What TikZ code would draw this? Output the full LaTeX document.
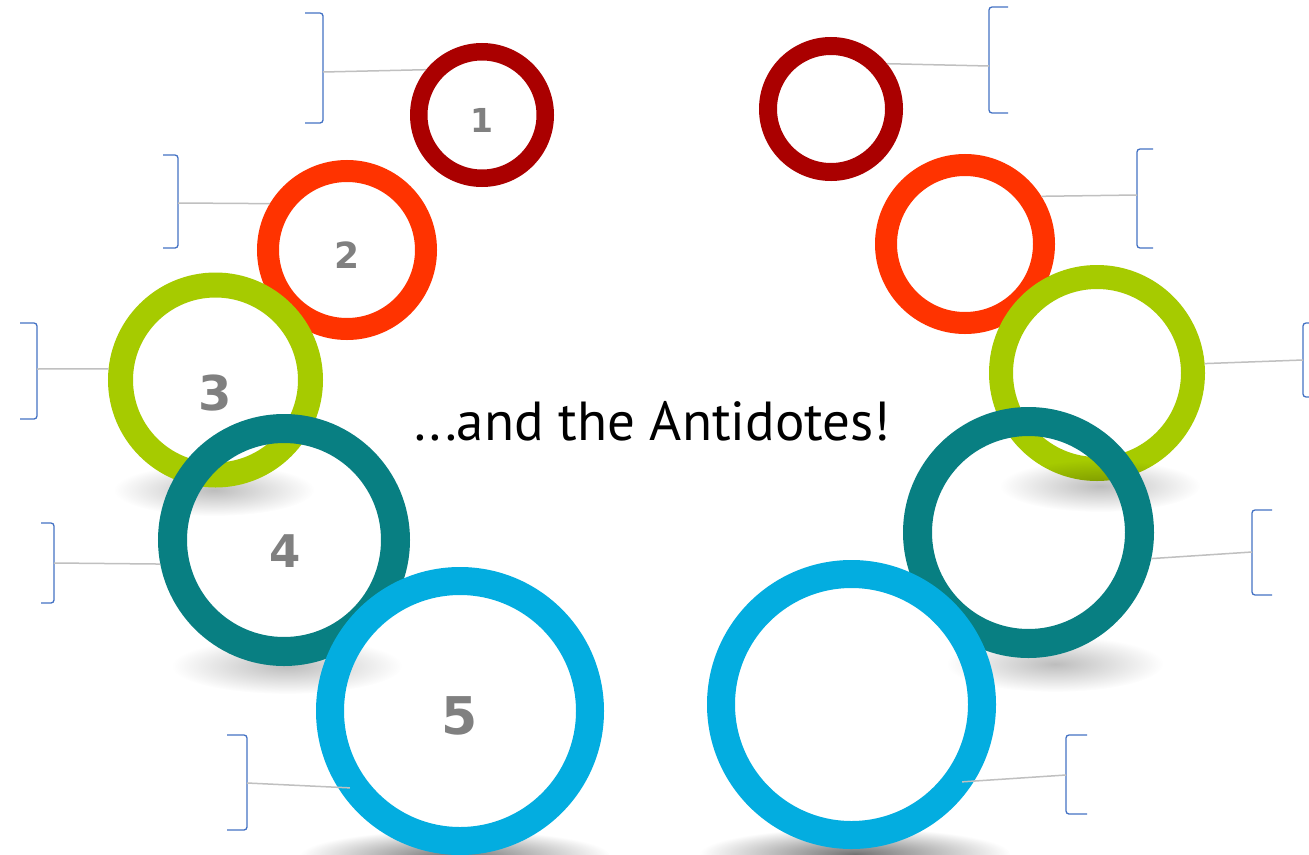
\documentclass[tikz,border=0pt]{standalone}
\usepackage{fontspec}
\setmainfont{DejaVu Sans}
\newfontfamily\titlefont{PT Sans}
\usetikzlibrary{fadings}
\definecolor{cRed}{RGB}{170,0,0}
\definecolor{cOrange}{RGB}{255,51,0}
\definecolor{cLime}{RGB}{166,203,0}
\definecolor{cTeal}{RGB}{8,127,130}
\definecolor{cCyan}{RGB}{3,173,224}
\definecolor{cBrk}{RGB}{68,114,196}
\definecolor{cLink}{RGB}{192,192,192}
\definecolor{cDigit}{RGB}{128,128,128}
\tikzfading[name=softshade, inner color=transparent!0, outer color=transparent!100]
\begin{document}
\begin{tikzpicture}[x=1pt,y=-1pt,
  ring/.style n args={3}{circle, draw=#1, line width=#2pt, minimum size=#3pt, inner sep=0pt},
  digit/.style={text=cDigit, font=\bfseries\fontsize{#1}{#1}\selectfont, inner sep=0pt},
  brk/.style={draw=cBrk, line width=1.3pt, rounded corners=3pt},
  link/.style={draw=cLink, line width=1.5pt},
  shadow/.style={fill=black, opacity=#1, path fading=softshade}]
\useasboundingbox (0,0) rectangle (1309,854);
\fill[white] (0,0) rectangle (1309,854);

% ---------- left side ----------
\node[ring={cRed}{17.5}{126.5}] (L1) at (482,115) {};
\node[ring={cOrange}{22}{158}] (L2) at (347,250) {};
\fill[shadow=0.26] (214,490) ellipse [x radius=100pt, y radius=26pt];
\node[ring={cLime}{25}{190}] (L3) at (215.5,380) {};
\fill[shadow=0.26] (287,666) ellipse [x radius=115pt, y radius=28pt];
\node[ring={cTeal}{29}{223}] (L4) at (284,540) {};
\fill[shadow=0.55] (455,856) ellipse [x radius=155pt, y radius=26pt];
\node[ring={cCyan}{28}{260}] (L5) at (460,711) {};

\node[digit=33] (d1) at (482,120) {1};
\node[digit=36] (d2) at (347,255) {2};
\node[digit=48] (d3) at (215,393) {3};
\node[digit=45] (d4) at (285,551) {4};
\node[digit=52] (d5) at (460,716) {5};

% ---------- right side ----------
\node[ring={cRed}{18}{126}] (R1) at (831,109) {};
\node[ring={cOrange}{22}{158}] (R2) at (965,244) {};
\node[ring={cLime}{24}{192}] (R3) at (1097,373) {};
\fill[shadow=0.26] (1100,486) ellipse [x radius=100pt, y radius=26pt];
\fill[shadow=0.26] (1055,664) ellipse [x radius=108pt, y radius=28pt];
\node[ring={cTeal}{29}{222}] (R4) at (1028.5,532.5) {};
\fill[shadow=0.55] (855,854) ellipse [x radius=155pt, y radius=26pt];
\node[ring={cCyan}{28}{261}] (R5) at (851.5,704.5) {};

% ---------- title ----------
\node[anchor=base, inner sep=0pt, font=\titlefont\fontsize{55}{60}\selectfont] (title) at (652.5,440) {...and the Antidotes!};

% ---------- brackets (left, "]") ----------
\coordinate (bL1) at (323,72);
\coordinate (bL2) at (178,203);
\coordinate (bL3) at (37,369);
\coordinate (bL4) at (54,563);
\coordinate (bL5) at (247,783);
\draw[brk] (305,13) -- (323,13) -- (323,123) -- (305,123);
\draw[brk] (163,155) -- (178,155) -- (178,248) -- (163,248);
\draw[brk] (20,323) -- (37,323) -- (37,419) -- (20,419);
\draw[brk] (41,523) -- (54,523) -- (54,603) -- (41,603);
\draw[brk] (227,735) -- (247,735) -- (247,830) -- (227,830);
\draw[link] (bL1) -- (L1.141.5);
\draw[link] (bL2) -- (L2.149);
\draw[link] (bL3) -- (L3.174);
\draw[link] (bL4) -- (L4.191.8);
\draw[link, shorten >=-12pt] (bL5) -- (L5.212.8);

% ---------- brackets (right, "[") ----------
\coordinate (bR1) at (989,66);
\coordinate (bR2) at (1137,195);
\coordinate (bR3) at (1303,360);
\coordinate (bR4) at (1252,552);
\coordinate (bR5) at (1066,775);
\draw[brk] (1008,7) -- (989,7) -- (989,113) -- (1008,113);
\draw[brk] (1153,149) -- (1137,149) -- (1137,248) -- (1153,248);
\draw[brk] (1318,323) -- (1303,323) -- (1303,397) -- (1318,397);
\draw[brk] (1272,510) -- (1252,510) -- (1252,595) -- (1272,595);
\draw[brk] (1087,735) -- (1066,735) -- (1066,814) -- (1087,814);
\draw[link] (bR1) -- (R1.39);
\draw[link] (bR2) -- (R2.32.5);
\draw[link] (bR3) -- (R3.5.8);
\draw[link] (bR4) -- (R4.-12);
\draw[link, shorten >=-12pt] (bR5) -- (R5.-32.2);
\end{tikzpicture}
\end{document}
